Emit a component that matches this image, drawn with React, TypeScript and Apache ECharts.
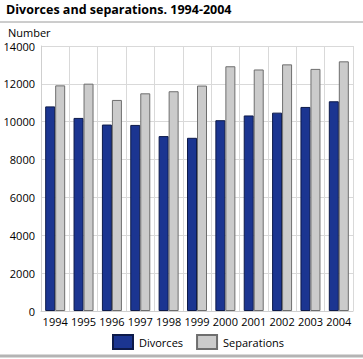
import React, { useEffect, useRef } from "react";
import * as echarts from "echarts";

const years = ["1994", "1995", "1996", "1997", "1998", "1999", "2000", "2001", "2002", "2003", "2004"];
const divorces = [10810, 10200, 9850, 9830, 9240, 9150, 10080, 10330, 10480, 10780, 11080];
const separations = [11920, 12010, 11150, 11500, 11610, 11910, 12930, 12760, 13030, 12790, 13190];
const yTicks = { min: 0, max: 14000, interval: 2000 };

export default function App() {
  const ref = useRef<HTMLDivElement>(null);
  useEffect(() => {
    if (!ref.current) return;
    const chart = echarts.init(ref.current, undefined, { renderer: "svg" });
    const font = "'Open Sans', 'Noto Sans', sans-serif";
    chart.setOption({
      animation: false,
      textStyle: { fontFamily: font },
      graphic: [
        { type: "text", left: 6, top: 3, style: { text: "Divorces and separations. 1994-2004", font: `bold 12.5px ${font}`, fill: "#000" } },
        { type: "line", shape: { x1: 0, y1: 22, x2: 363, y2: 22 }, style: { stroke: "#9a9a9a", lineWidth: 1 } },
        { type: "text", left: 8, top: 27, style: { text: "Number", font: `11px ${font}`, fill: "#000" } },
        { type: "line", shape: { x1: 0, y1: 356, x2: 363, y2: 356 }, style: { stroke: "#b4b4b4", lineWidth: 3 } },
      ],
      legend: {
        bottom: 4,
        left: 107,
        icon: "rect",
        itemWidth: 20,
        itemHeight: 14,
        itemGap: 13,
        textStyle: { fontSize: 11, color: "#000", fontFamily: font, padding: [0, 0, 0, 1] },
        data: ["Divorces", "Separations"],
      },
      grid: { left: 41, right: 10, top: 46, bottom: 48 },
      xAxis: {
        type: "category",
        data: years,
        axisLine: { lineStyle: { color: "#cfcfcf" } },
        axisTick: { show: false },
        splitLine: { show: true, lineStyle: { color: "#d9d9d9" } },
        axisLabel: { color: "#000", fontSize: 11, margin: 5, fontFamily: font, interval: 0 },
      },
      yAxis: {
        type: "value",
        min: yTicks.min,
        max: yTicks.max,
        interval: yTicks.interval,
        axisLine: { show: true, lineStyle: { color: "#cfcfcf" } },
        axisTick: { show: false },
        splitLine: { lineStyle: { color: "#d9d9d9" } },
        axisLabel: { color: "#000", fontSize: 11, margin: 6, fontFamily: font, formatter: (v: number) => String(v) },
      },
      series: [
        {
          name: "Divorces",
          type: "bar",
          data: divorces,
          barWidth: 10,
          barGap: "0%",
          itemStyle: { color: "#1b3591", borderColor: "#0d1a4a", borderWidth: 1 },
        },
        {
          name: "Separations",
          type: "bar",
          data: separations,
          barWidth: 10,
          barGap: "0%",
          itemStyle: { color: "#cbcbcb", borderColor: "#6e6e6e", borderWidth: 1 },
        },
      ],
    });
    return () => chart.dispose();
  }, []);
  return <div ref={ref} style={{ position: "absolute", left: 0, top: 0, width: 363, height: 359 }} />;
}
